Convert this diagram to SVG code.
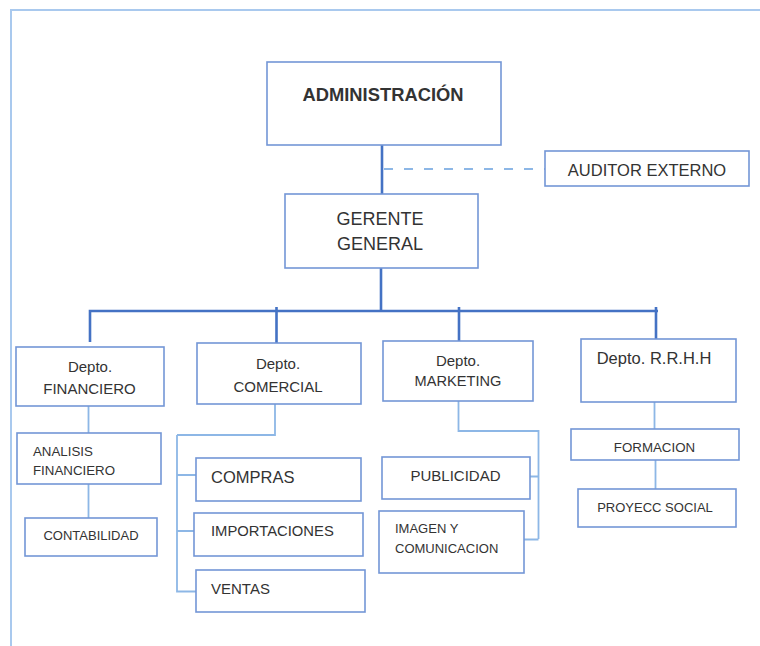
<svg xmlns="http://www.w3.org/2000/svg" width="760" height="646" viewBox="0 0 760 646">
<style>
.box{fill:#fff;stroke:#7396d6;stroke-width:1.6}
.t{font-family:"Liberation Sans",Arial,sans-serif;fill:#333;}
.c{text-anchor:middle}
.main{fill:none;stroke:#4472c4;stroke-width:2.6}
.sub{fill:none;stroke:#8db7e6;stroke-width:1.8}
.frame{fill:none;stroke:#a9c9ee;stroke-width:2}
</style>
<rect width="760" height="646" fill="#fff"/>
<path class="frame" d="M11,646 V10 H760"/>
<g id="connectors">
<path class="main" d="M382,145 V194"/>
<path class="sub" d="M384,169 H545" stroke-dasharray="9,11"/>
<path class="main" d="M381,268 V311"/>
<path class="main" d="M90,342 V311 H658 M276.5,307 V343 M459,307 V341 M656,307 V339"/>
<path class="sub" d="M88.5,406 V433 M88.5,484 V518"/>
<path class="sub" d="M275,404 V435 H177 M177,435 V591.5 H196 M177,475 H196 M177,531 H194"/>
<path class="sub" d="M458.5,401 V431 H538.5 V539 M530,476.5 H538.5 M524,539.5 H538.5"/>
<path class="sub" d="M654.5,402 V429 M655.5,460 V489"/>
</g>
<g id="administracion">
<rect class="box" x="267" y="62" width="234" height="83"/>
<text class="t c" x="383" y="100.5" font-size="18" font-weight="bold" fill="#1a1a1a" textLength="161" lengthAdjust="spacingAndGlyphs">ADMINISTRACIÓN</text>
</g>
<g id="auditor">
<rect class="box" x="545" y="151" width="204" height="35"/>
<text class="t c" x="647" y="175.5" font-size="16.5">AUDITOR EXTERNO</text>
</g>
<g id="gerente">
<rect class="box" x="285" y="194" width="193" height="74"/>
<text class="t c" x="380" y="224.5" font-size="18">GERENTE</text>
<text class="t c" x="380" y="249.5" font-size="18">GENERAL</text>
</g>
<g id="financiero">
<rect class="box" x="16" y="347" width="148" height="59"/>
<text class="t c" x="90" y="371.5" font-size="15">Depto.</text>
<text class="t c" x="89.5" y="393.5" font-size="15">FINANCIERO</text>
</g>
<g id="comercial">
<rect class="box" x="197" y="343" width="164" height="61"/>
<text class="t c" x="278" y="368.5" font-size="15">Depto.</text>
<text class="t c" x="278" y="391.5" font-size="15">COMERCIAL</text>
</g>
<g id="marketing">
<rect class="box" x="383" y="341" width="150" height="60"/>
<text class="t c" x="458" y="365.5" font-size="15">Depto.</text>
<text class="t c" x="458" y="386" font-size="14.6">MARKETING</text>
</g>
<g id="rrhh">
<rect class="box" x="581" y="339" width="155" height="63"/>
<text class="t c" x="654" y="364" font-size="16.5">Depto. R.R.H.H</text>
</g>
<g id="analisis">
<rect class="box" x="17" y="433" width="144" height="51"/>
<text class="t" x="33" y="455.7" font-size="13.3">ANALISIS</text>
<text class="t" x="33" y="475.4" font-size="13.3">FINANCIERO</text>
</g>
<g id="contabilidad">
<rect class="box" x="25" y="518" width="132" height="38"/>
<text class="t c" x="91" y="539.7" font-size="13">CONTABILIDAD</text>
</g>
<g id="compras">
<rect class="box" x="196" y="458" width="165" height="43"/>
<text class="t" x="211" y="483.3" font-size="16.5">COMPRAS</text>
</g>
<g id="importaciones">
<rect class="box" x="194" y="513" width="169" height="43"/>
<text class="t" x="211" y="535.5" font-size="14.8">IMPORTACIONES</text>
</g>
<g id="ventas">
<rect class="box" x="196" y="570" width="169" height="42"/>
<text class="t" x="211" y="593.7" font-size="15">VENTAS</text>
</g>
<g id="publicidad">
<rect class="box" x="382" y="457" width="148" height="42"/>
<text class="t c" x="455.5" y="480.5" font-size="15">PUBLICIDAD</text>
</g>
<g id="imagen">
<rect class="box" x="379" y="511" width="145" height="62" stroke-width="2"/>
<text class="t" x="395" y="532.5" font-size="13">IMAGEN Y</text>
<text class="t" x="395" y="552.5" font-size="13">COMUNICACION</text>
</g>
<g id="formacion">
<rect class="box" x="571" y="429" width="168" height="31"/>
<text class="t c" x="654.5" y="451.5" font-size="13.3">FORMACION</text>
</g>
<g id="proyecc">
<rect class="box" x="578" y="489" width="158" height="38"/>
<text class="t c" x="655" y="511.5" font-size="13">PROYECC SOCIAL</text>
</g>
</svg>
